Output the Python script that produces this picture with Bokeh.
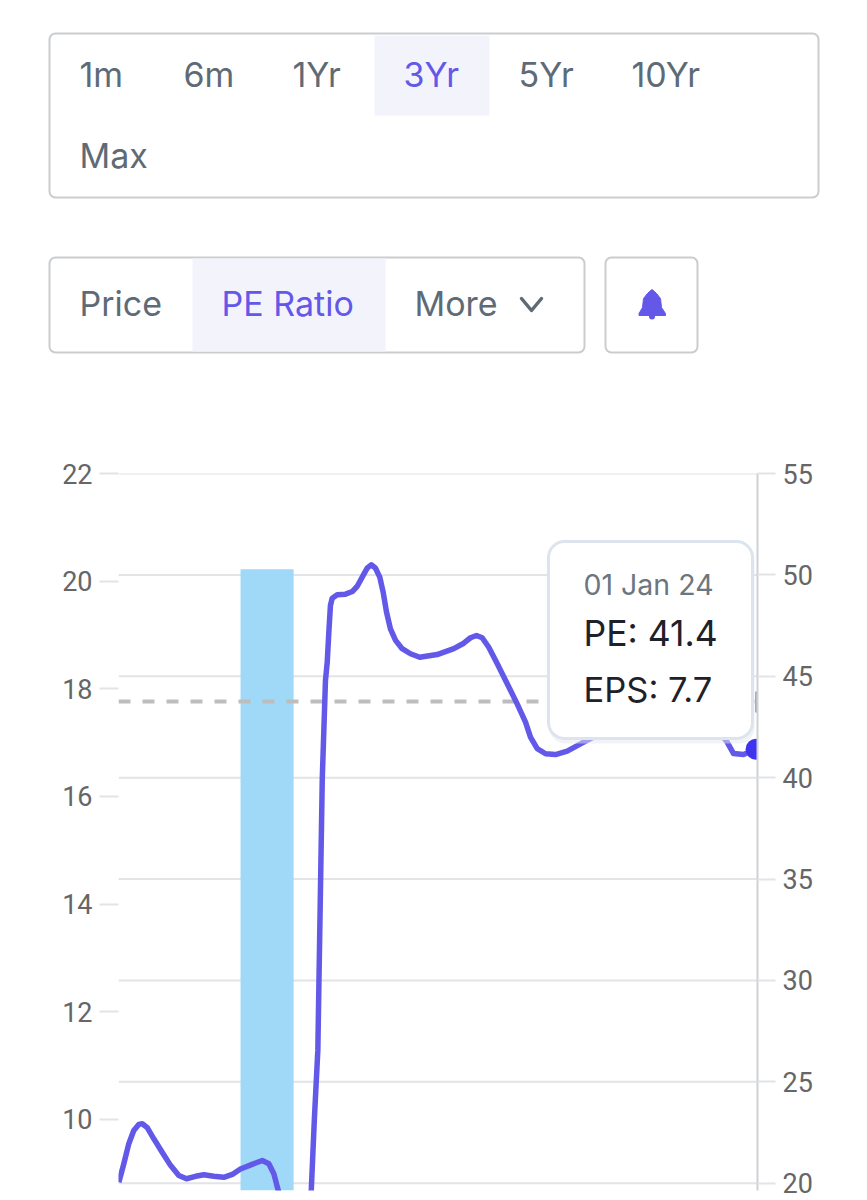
from bokeh.core.properties import value
from bokeh.embed import file_html
from bokeh.layouts import column
from bokeh.models import BoxAnnotation, FixedTicker, LinearAxis, Range1d
from bokeh.plotting import figure
from bokeh.resources import INLINE

# chart values, x is months from the start of the 3Yr window
months = [0.02, 0.30, 0.58, 0.86, 1.14, 1.34, 1.62, 1.99, 2.46, 2.93, 3.40, 3.83, 4.34, 4.81,
          5.37, 5.93, 6.41, 6.87, 7.53, 8.10, 8.47, 8.75, 9.00, 9.30, 10.03, 10.54, 10.86,
          11.04, 11.23, 11.48, 11.66, 11.76, 11.85, 11.94, 12.04, 12.32, 12.79, 13.17, 13.45,
          13.73, 14.01, 14.24, 14.48, 14.72, 14.91, 15.10, 15.32, 15.61, 15.98, 16.45, 16.97,
          17.95, 18.89, 19.45, 19.83, 20.17, 20.49, 20.86, 21.34, 21.90, 22.46, 22.93, 23.21,
          23.59, 24.06, 24.62, 25.28, 26.21, 27.15, 29.41, 31.66, 33.35, 34.29, 34.65, 35.21,
          35.92]
pe_ratio = [20.05, 20.96, 21.95, 22.60, 22.90, 22.93, 22.74, 22.19, 21.53, 20.88, 20.38, 20.22,
            20.34, 20.42, 20.34, 20.29, 20.43, 20.70, 20.93, 21.12, 20.96, 20.47, 19.64, 18.41,
            17.18, 18.41, 19.64, 23.26, 26.55, 39.95, 44.79, 45.70, 47.17, 48.49, 48.85, 49.02,
            49.05, 49.18, 49.44, 49.89, 50.33, 50.50, 50.33, 49.89, 49.15, 48.16, 47.34, 46.77,
            46.36, 46.11, 45.94, 46.07, 46.36, 46.63, 46.90, 47.01, 46.90, 46.43, 45.62, 44.63,
            43.64, 42.74, 42.00, 41.43, 41.18, 41.14, 41.31, 41.75, 42.18, 43.07, 43.56, 42.82,
            41.75, 41.19, 41.14, 41.40]
bar_months = [8.37]
bar_eps = [20.22]
bar_width_months = 2.99
median_pe = 43.76
left_ticks = [10, 12, 14, 16, 18, 20, 22]
right_ticks = [20, 25, 30, 35, 40, 45, 50, 55]

# button rows
range_labels = ["1m", "6m", "1Yr", "3Yr", "5Yr", "10Yr", "Max"]
range_x = [79, 183, 292, 403, 518, 631, 79]
range_y = [74, 74, 74, 74, 74, 74, 155]
range_colors = ["#5E6B76", "#5E6B76", "#5E6B76", "#6458E8", "#5E6B76", "#5E6B76", "#5E6B76"]
metric_labels = ["Price", "PE Ratio", "More"]
metric_x = [79, 221, 414]
metric_colors = ["#5E6B76", "#6458E8", "#5E6B76"]

UI_FONT = value("Inter")
BORDER = "#C9CDD0"
ACTIVE = "#F3F3FC"

# top part, coordinates are page pixels
ui = figure(width=867, height=453, x_range=Range1d(0, 867), y_range=Range1d(453, 0),
            x_axis_location=None, y_axis_location=None, toolbar_location=None,
            output_backend="svg", min_border=0, outline_line_color=None)
ui.grid.visible = False
ui.frame_align = False

ui.quad(left=[49, 49, 605], right=[818, 584, 697], top=[33, 257, 257], bottom=[197, 352, 352],
        fill_color="white", line_color=BORDER, line_width=2, border_radius=6)
ui.quad(left=[374, 192], right=[489, 385], top=[35, 258], bottom=[115, 351],
        fill_color=ACTIVE, line_color=None)
ui.text(range_x, range_y, text=range_labels, text_color=range_colors, text_font=UI_FONT,
        text_font_size="34px", text_baseline="middle")
ui.text(metric_x, [303, 303, 303], text=metric_labels, text_color=metric_colors, text_font=UI_FONT,
        text_font_size="34px", text_baseline="middle")
ui.line([521, 531, 541], [298, 310, 298], line_color="#5E6B76", line_width=3.5, line_cap="round",
        line_join="round")
# bell icon
ui.patch([651.5, 654, 656, 660, 661, 665, 665, 638.5, 638.5, 642, 643, 647, 649],
         [289, 291, 293, 298, 307, 313, 315, 315, 313, 307, 298, 293, 291],
         fill_color="#6458E8", line_color="#6458E8", line_width=1)
ui.scatter([651.5], [316], size=6, fill_color="#6458E8", line_color=None)

# chart part
p = figure(width=867, height=747, x_range=Range1d(0, 36), y_range=Range1d(8.68, 22),
           x_axis_location=None, y_axis_location=None, toolbar_location=None,
           output_backend="svg", outline_line_color=None,
           min_border_left=118, min_border_right=110, min_border_top=20, min_border_bottom=10)
p.frame_align = False
p.extra_y_ranges["pe"] = Range1d(19.64, 55)
p.extra_x_ranges["px"] = Range1d(118, 757)
p.extra_y_ranges["px"] = Range1d(1190, 473)
p.grid.visible = False

left_axis = LinearAxis(ticker=FixedTicker(ticks=left_ticks))
right_axis = LinearAxis(y_range_name="pe", ticker=FixedTicker(ticks=right_ticks))
for axis in (left_axis, right_axis):
    axis.major_tick_in = 0
    axis.minor_tick_line_color = None
    axis.major_tick_line_color = "#E2E4E7"
    axis.major_tick_line_width = 2
    axis.major_label_text_font = "Roboto"
    axis.major_label_text_font_size = "27px"
    axis.major_label_text_color = "#666666"
left_axis.major_tick_out = 19
left_axis.major_label_standoff = 7
left_axis.axis_line_color = None
right_axis.major_tick_out = 18
right_axis.major_label_standoff = 7
right_axis.axis_line_color = "#CDD1D5"
right_axis.axis_line_width = 2
p.add_layout(left_axis, "left")
p.add_layout(right_axis, "right")

# gridlines follow the right axis
p.hbar(y=right_ticks, left=0, right=36, height=0, y_range_name="pe", line_color="#E2E4E7", line_width=2)

p.vbar(x=bar_months, top=bar_eps, bottom=0, width=bar_width_months, fill_color="#A0D8F7",
       line_color=None)
p.line([0, 36], [median_pe, median_pe], y_range_name="pe", line_color="#BDBDBD", line_width=4,
       line_dash="12 12")
p.line(months, pe_ratio, y_range_name="pe", line_color="#6359E9", line_width=5.5, line_join="round")
p.scatter(months[-1:], pe_ratio[-1:], y_range_name="pe", size=21, fill_color="#3D33F0", line_color=None)

# tooltip
p.quad(left=[549], right=[754], top=[543], bottom=[743], x_range_name="px", y_range_name="px",
       fill_color="#E4E8EE", fill_alpha=0.5, line_color=None, border_radius=16)
p.quad(left=[548], right=[752], top=[541], bottom=[738], x_range_name="px", y_range_name="px",
       fill_color="white", line_color="#DDE4EE", line_width=3, border_radius=16)
p.line([755.5, 755.5], [691, 712], x_range_name="px", y_range_name="px", line_color="#A9ADB1", line_width=2)
p.text([583], [584], text=["01 Jan 24"], x_range_name="px", y_range_name="px", text_color="#6B7680",
       text_font=UI_FONT, text_font_size="28.5px", text_baseline="middle")
p.text([583], [633], text=["PE: 41.4"], x_range_name="px", y_range_name="px", text_color="#1E2129",
       text_font=UI_FONT, text_font_size="35.5px", text_baseline="middle")
p.text([583], [689], text=["EPS: 7.7"], x_range_name="px", y_range_name="px", text_color="#1E2129",
       text_font=UI_FONT, text_font_size="34.5px", text_baseline="middle")

# thin rule where the screenshot's chart card ends
p.add_layout(BoxAnnotation(left=0, right=867, top=738, bottom=739.5, left_units="canvas",
                           right_units="canvas", top_units="canvas", bottom_units="canvas",
                           fill_color="#EEF0F6", fill_alpha=1, line_color=None))

page = column(ui, p, spacing=0)
open("out.html", "w").write(file_html(page, INLINE))
